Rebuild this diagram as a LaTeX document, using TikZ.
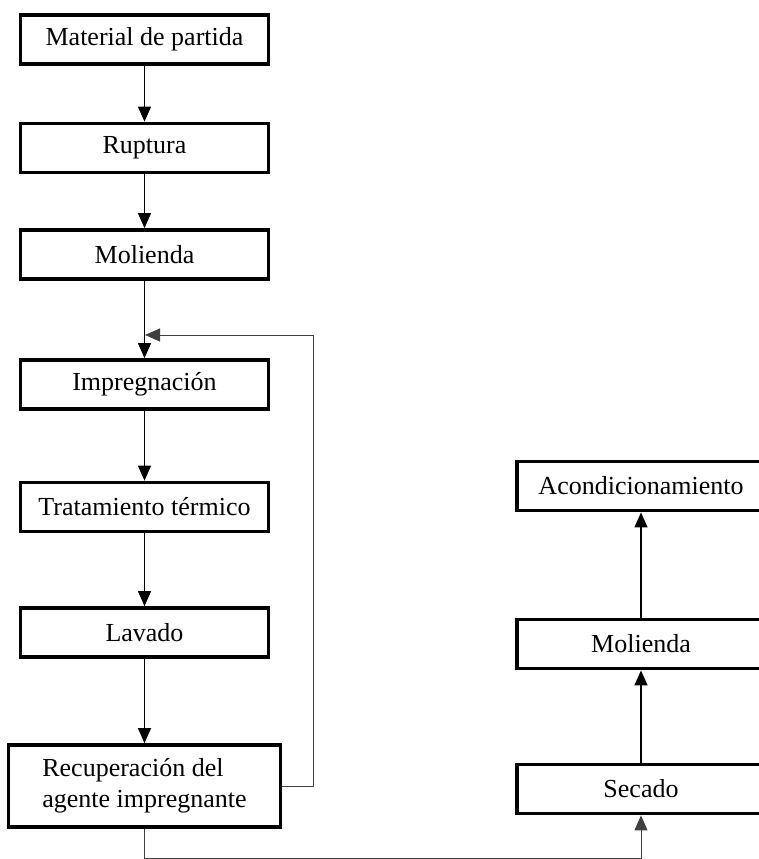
\documentclass[tikz,border=0pt]{standalone}
\usepackage{fontspec}
\setmainfont{Liberation Serif}
\usetikzlibrary{arrows.meta}

\begin{document}
\begin{tikzpicture}[x=1pt,y=-1pt]

      \useasboundingbox (0,0) rectangle (759,859);

      \begin{scope}[every node/.style={rectangle,draw,line width=3.8pt,
          minimum width=248pt,minimum height=49pt,inner sep=0pt,
          font=\fontsize{26}{31}\selectfont}]
        \node (1)  at (144.5,39.5)  {Material de partida};
        \node (2)  at (144.5,148)   {Ruptura};
        \node (3)  at (144.5,254.5) {Molienda};
        \node (4)  at (144.5,384.5) {Impregnación};
        \node (5)  at (144.5,507)   {Tratamiento térmico};
        \node (6)  at (144.5,632.5) {Lavado};
        \node[minimum width=272pt,minimum height=82pt,align=left]
          (7) at (144.5,786) {Recuperación del\\agente impregnante};
        \node (8)  at (641,486) {Acondicionamiento};
        \node (9)  at (641,644) {Molienda};
        \node (10) at (641,789) {Secado};
      \end{scope}

      \coordinate (a) at (145,335);
      \coordinate (b) at (313,335);
      \coordinate (c) at (641,858);

      \begin{scope}[every edge/.style={draw,line width=1.3pt,
          -{Triangle[length=15pt,width=13pt]}}]
        \path (1)  edge (2);
        \path (2)  edge (3);
        \path (3)  edge (4);
        \path (4)  edge (5);
        \path (5)  edge (6);
        \path (6)  edge (7);
        \path (10) edge (9);
        \path (9)  edge (8);
      \end{scope}

      % retorno del agente y salida hacia secado
      \draw[black!75,line width=1pt,-{Triangle[length=15pt,width=13pt]}]
        (7.east) -| (b) -- (a);
      \draw[black!75,line width=1pt,-{Triangle[length=15pt,width=13pt]}]
        (7.south) |- (c) -- (10.south);

    \end{tikzpicture}
\end{document}
